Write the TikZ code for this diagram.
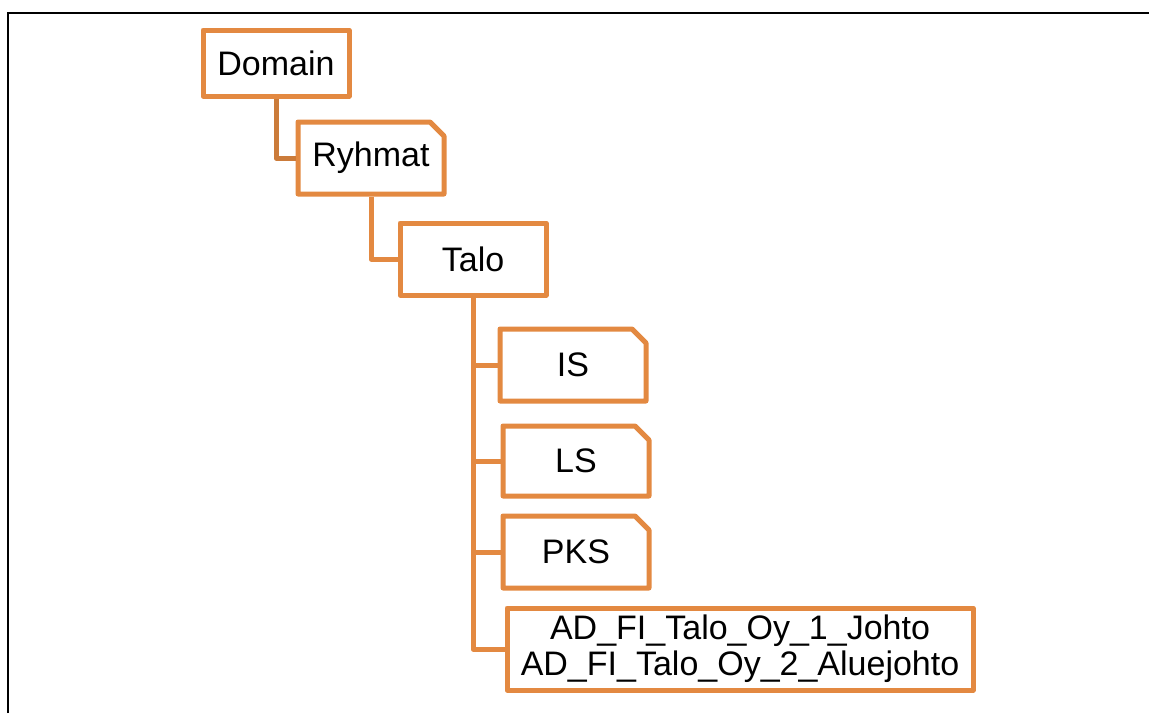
\documentclass[tikz,border=0pt]{standalone}
\usepackage{fontspec}
\setmainfont{Liberation Sans}
\usetikzlibrary{shapes.misc}
\definecolor{boxorange}{RGB}{227,137,65}
\definecolor{linkorange}{RGB}{203,123,58}
\tikzset{
	box/.style={draw=boxorange, line width=2.5pt, line join=round, fill=white, inner sep=0pt, align=center, font=\fontsize{17}{18}\selectfont},
	folder/.style={box, chamfered rectangle, chamfered rectangle corners=north east, chamfered rectangle xsep=3.5pt, chamfered rectangle ysep=3.5pt},
	link/.style={draw=boxorange, line width=2.5pt, line join=round}
}
\begin{document}
\begin{tikzpicture}[x=0.5pt,y=-0.5pt]
		\useasboundingbox (0,0) rectangle (1149,713);
		\draw[line width=1pt] (8,713) -- (8,13) -- (1149,13);
		\node[box, minimum width=73pt, minimum height=33pt] at (276,63) (domain) {Domain};
		\node[folder, minimum width=73pt, minimum height=36pt] at (371,158) (ryhmat) {Ryhmat};
		\node[box, minimum width=73pt, minimum height=36pt] at (473,259) (talo) {Talo};
		\node[folder, minimum width=73pt, minimum height=36pt] at (573,365) (is) {IS};
		\node[folder, minimum width=73pt, minimum height=35pt] at (576,461) (ls) {LS};
		\node[folder, minimum width=73pt, minimum height=36pt] at (576,552) (pks) {PKS};
		\node[box, minimum width=233pt, minimum height=41pt] at (740,649) (ad) {AD\_FI\_Talo\_Oy\_1\_Johto\\AD\_FI\_Talo\_Oy\_2\_Aluejohto};
		\draw[link, draw=linkorange] (domain.south) |- (ryhmat.west);
		\draw[link] (ryhmat.south) |- (talo.west);
		\foreach \n in {is,ls,pks,ad}
			\draw[link] (talo.south) |- (\n.west);
	\end{tikzpicture}
\end{document}
